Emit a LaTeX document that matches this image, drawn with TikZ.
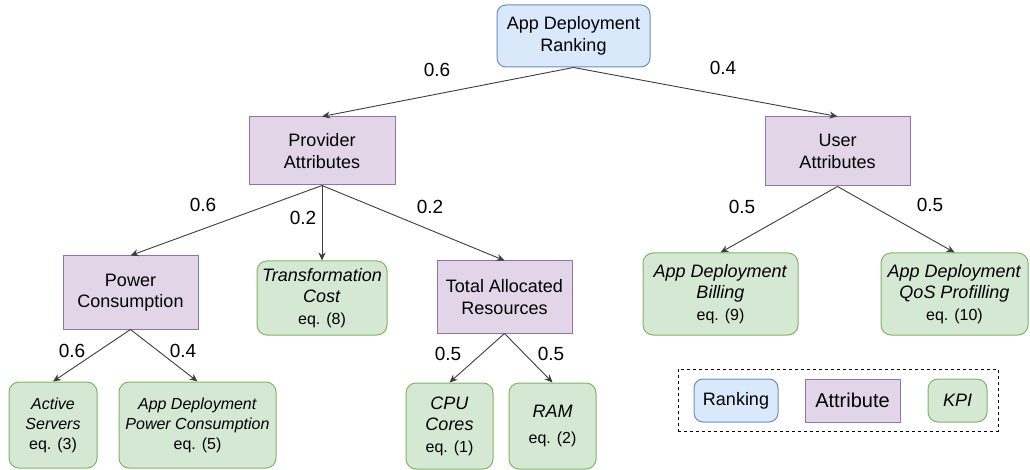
\documentclass[tikz,border=0pt]{standalone}
\usepackage{fontspec}
\setmainfont{Liberation Sans}
\usetikzlibrary{arrows.meta}
\definecolor{rankfill}{HTML}{DAE8FC}
\definecolor{rankline}{HTML}{6C8EBF}
\definecolor{attrfill}{HTML}{E1D5E7}
\definecolor{attrline}{HTML}{9673A6}
\definecolor{kpifill}{HTML}{D5E8D4}
\definecolor{kpiline}{HTML}{82B366}
\definecolor{linkgray}{HTML}{3C3C3C}
\newcommand{\eqline}[1]{{\fontsize{16}{20}\selectfont #1}}
\begin{document}
\begin{tikzpicture}[x=1pt,y=-1pt,
  box/.style={draw, line width=1pt, align=center, inner sep=0pt,
    font=\fontsize{18}{21.5}\selectfont},
  rankbox/.style={box, fill=rankfill, draw=rankline, rounded corners=9pt},
  attrbox/.style={box, fill=attrfill, draw=attrline},
  kpibox/.style={box, fill=kpifill, draw=kpiline, rounded corners=10pt},
  small/.style={font=\fontsize{16}{20}\selectfont},
  link/.style={draw=linkgray, line width=0.9pt, -{Stealth[length=8pt,width=7pt]}},
  wt/.style={inner sep=0pt, font=\fontsize{19}{21}\selectfont}
]
\useasboundingbox (0,0) rectangle (1030,470);

% root
\node[rankbox, minimum width=153pt, minimum height=62pt] (rank) at (573.5,36) {App Deployment\\Ranking};

% attribute level
\node[attrbox, minimum width=146pt, minimum height=68pt] (prov) at (322,151) {Provider\\Attributes};
\node[attrbox, minimum width=145pt, minimum height=69pt] (user) at (837.5,151.5) {User\\Attributes};

% second level
\node[attrbox, minimum width=135pt, minimum height=73pt] (power) at (130.5,292.5) {Power\\Consumption};
\node[kpibox, minimum width=130pt, minimum height=74pt] (trans) at (322,298) {\textit{Transformation}\\\textit{Cost}\\\eqline{eq. (8)}};
\node[attrbox, minimum width=135pt, minimum height=72pt] (total) at (504.5,297) {Total Allocated\\Resources};
\node[kpibox, minimum width=155pt, minimum height=82pt] (bill) at (720.5,294) {\textit{App Deployment}\\\textit{Billing}\\\eqline{eq. (9)}};
\node[kpibox, minimum width=147pt, minimum height=82pt] (qos) at (954.5,294) {\textit{App Deployment}\\\textit{QoS Profilling}\\\eqline{eq. (10)}};

% leaves
\node[kpibox, small, minimum width=88pt, minimum height=86pt] (active) at (53,425) {\textit{Active}\\\textit{Servers}\\eq. (3)};
\node[kpibox, small, minimum width=157pt, minimum height=86pt] (adpc) at (197.5,425) {\textit{App Deployment}\\\textit{Power Consumption}\\eq. (5)};
\node[kpibox, minimum width=87pt, minimum height=86pt] (cpu) at (449.5,426) {\textit{CPU}\\\textit{Cores}\\\eqline{eq. (1)}};
\node[kpibox, minimum width=87pt, minimum height=86pt] (ram) at (552.5,426) {\textit{RAM}\\[4pt]\eqline{eq. (2)}};

% connectors
\draw[link] (rank.south) -- (prov.north);
\draw[link] (rank.south) -- (user.north);
\draw[link] (prov.south) -- (power.north);
\draw[link] (prov.south) -- (trans.north);
\draw[link] (prov.south) -- (total.north);
\draw[link] (user.south) -- (bill.north);
\draw[link] (user.south) -- (qos.north);
\draw[link] (power.south) -- (active.north);
\draw[link] (power.south) -- (adpc.north);
\draw[link] (total.south) -- (cpu.north);
\draw[link] (total.south) -- (ram.north);

% weights
\node[wt] (w1) at (437,70) {0.6};
\node[wt] (w2) at (723,68) {0.4};
\node[wt] (w3) at (203,205) {0.6};
\node[wt] (w4) at (303,218) {0.2};
\node[wt] (w5) at (430,207) {0.2};
\node[wt] (w6) at (742,207) {0.5};
\node[wt] (w7) at (930,205) {0.5};
\node[wt] (w8) at (72,351) {0.6};
\node[wt] (w9) at (183,351) {0.4};
\node[wt] (w10) at (448,354) {0.5};
\node[wt] (w11) at (551,354) {0.5};

% legend
\node[draw=black, line width=0.8pt, dash pattern=on 3pt off 3pt, minimum width=320pt, minimum height=62pt] (legend) at (838,400) {};
\node[rankbox, minimum width=84pt, minimum height=43pt] (lrank) at (736,400.5) {Ranking};
\node[attrbox, minimum width=95pt, minimum height=43pt, font=\fontsize{20}{22}\selectfont] (lattr) at (852.5,400.5) {Attribute};
\node[kpibox, minimum width=59pt, minimum height=43pt] (lkpi) at (957.5,400.5) {\textit{KPI}};
\end{tikzpicture}
\end{document}
